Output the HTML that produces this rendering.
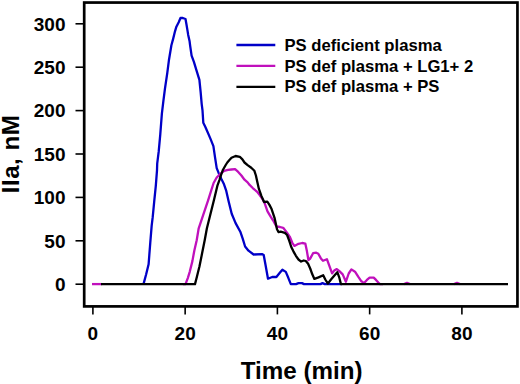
<!DOCTYPE html>
<html><head><meta charset="utf-8">
<style>
html,body{margin:0;padding:0;background:#fff;}
body{width:520px;height:384px;overflow:hidden;}
svg{display:block;}
text{font-family:"Liberation Sans",sans-serif;font-weight:bold;fill:#000;}
</style></head><body>
<svg width="520" height="384" viewBox="0 0 520 384">
<rect x="0" y="0" width="520" height="384" fill="#fff"/>
<g transform="translate(0,0.3)" fill="none" stroke-linejoin="round" stroke-linecap="butt" stroke-width="2.3">
<polyline stroke="#0000c8" points="143.5,283.8 146.1,274.2 148.6,264 150.3,242 151.7,225 152.7,216.9 154.2,201.25 155.8,185.6 157,170 157.2,163.4 158.75,150.9 160.3,133.75 161.9,113.1 163.4,100.6 165,88.1 167.3,72.5 168.9,60 171.4,45 173.2,38.3 175,31 176.4,26.4 178.7,21.9 180.5,17.7 182.8,17.7 185.5,18.7 186.4,23.7 187.3,29.1 188.2,34.6 189.6,41 190.1,45 191.6,55.3 193.9,61.6 196.25,69.4 199.4,79.5 200.6,91.25 201.7,103.75 202.5,110 203.3,122.5 205.6,127.2 210.3,138.1 213.4,145.9 215,156.9 216.7,167.8 218.7,172.9 221.4,178.75 223.75,183.4 226.1,190 228.6,200.9 231.7,213.4 235.6,222.8 240.3,231.4 242.7,238.4 245.1,246.2 248.5,250.4 253.6,254.2 262,253.8 263.7,254.7 265.4,264 268,278.4 272.2,276.7 276.4,276.7 279.8,272.5 282.4,269.4 285.8,271.6 288.3,277.5 290.8,283.8 296,283.8 298.5,282.8 302,282.8 304,283.8 320.5,283.8 322.5,282.8 324.8,283.8 342,283.8"/>
<polyline stroke="#c010bc" points="183,283.8 185.5,283.8 187.8,277.8 189.8,271.25 192.4,260.8 194.3,250.4 196.7,240 198.7,228 203.4,214 208.1,200 211.25,190 213.6,182.7 216.7,177.2 220.6,173.3 224.2,170.5 228,169.6 231.5,169.2 235.1,168.9 238.2,171.6 241.4,175.2 244.5,179.4 247.6,182 249.1,184.1 253,188 256.9,191.25 259.5,194.5 262,198 264.7,203 267.5,211 270.8,216.6 273,220 276.25,226 280,226.7 283.2,227.5 286.6,231.8 289.7,236.25 292.3,242.5 294.4,245.6 298.5,243.5 302.2,242.7 305.3,243.3 306.9,250.8 308.4,259.7 310,258.6 313.1,252.9 316.25,252.4 318.3,253.4 320.9,258.1 323,260.5 326.9,258.9 329,264.6 332.1,273 334.2,270.3 336.8,268.75 339.4,270.8 342.7,274.1 345.9,281.4 348.7,273.2 351.4,269.1 355,271.4 358.2,276.4 361.4,281 364.1,282.8 366.9,279.6 369.6,277.3 373.7,277.3 376,279.6 378.3,282.3 380,283.8 383,283.8"/>
<polyline stroke="#c010bc" points="92,283.8 102,283.8"/><polyline stroke="#c010bc" points="404,283.8 407,282.5 410,283.8"/><polyline stroke="#c010bc" points="454,283.8 457,282.5 460,283.8"/>
<polyline stroke="#000000" points="101,283.8 195,283.8 196.9,276.5 199.5,266 202.1,253 204.7,240 206.9,228 210.4,214 213.9,200 216.3,190 217.5,185 219.5,179.5 221,174.8 223,169.4 225.7,164.7 227.3,162.2 229.2,160 231.5,157.5 235.6,155.7 239.8,156.5 242.4,159.1 244.5,162.2 247.6,164.8 251.25,167.4 254.4,170.5 255.9,175.2 257.5,182.5 258.9,188.6 261.5,195.8 264.1,201.7 267.3,201.4 269.3,204.3 271.6,208.75 274.7,218.1 277,229 278.6,231.9 280.7,231.4 284.9,232.6 287.1,234.7 289.2,240.4 291.25,246.7 293.3,250.8 295.9,255.5 298.5,259.2 301.1,261.25 303.75,260.2 305.8,260.7 308.1,263.5 310.2,268.2 312.3,274 314.4,278.6 318.5,277.1 323.2,275 325.3,279.2 327.9,283.3 331,279.2 334.2,275.5 337.3,271.9 339.4,277.6 340.9,283.8 508,283.8"/>
</g>
<g stroke="#000" stroke-width="1.6">
<line x1="75.5" y1="284.20" x2="84" y2="284.20" />
<line x1="75.5" y1="240.80" x2="84" y2="240.80" />
<line x1="75.5" y1="197.40" x2="84" y2="197.40" />
<line x1="75.5" y1="154.00" x2="84" y2="154.00" />
<line x1="75.5" y1="110.60" x2="84" y2="110.60" />
<line x1="75.5" y1="67.20" x2="84" y2="67.20" />
<line x1="75.5" y1="23.80" x2="84" y2="23.80" />
<line x1="92.90" y1="306" x2="92.90" y2="314.4" />
<line x1="185.15" y1="306" x2="185.15" y2="314.4" />
<line x1="277.40" y1="306" x2="277.40" y2="314.4" />
<line x1="369.65" y1="306" x2="369.65" y2="314.4" />
<line x1="461.90" y1="306" x2="461.90" y2="314.4" />
</g>
<rect x="84.2" y="2.55" width="433.25" height="303.85" fill="none" stroke="#000" stroke-width="2.7"/>
<g font-size="19">
<text x="65.5" y="291.00" text-anchor="end">0</text>
<text x="65.5" y="247.60" text-anchor="end">50</text>
<text x="65.5" y="204.20" text-anchor="end">100</text>
<text x="65.5" y="160.80" text-anchor="end">150</text>
<text x="65.5" y="117.40" text-anchor="end">200</text>
<text x="65.5" y="74.00" text-anchor="end">250</text>
<text x="65.5" y="30.60" text-anchor="end">300</text>
<text x="92.90" y="340" text-anchor="middle">0</text>
<text x="185.15" y="340" text-anchor="middle">20</text>
<text x="277.40" y="340" text-anchor="middle">40</text>
<text x="369.65" y="340" text-anchor="middle">60</text>
<text x="461.90" y="340" text-anchor="middle">80</text>
</g>
<g stroke-width="2.3">
<line x1="236.4" y1="45" x2="275.3" y2="45" stroke="#0000c8"/>
<line x1="236.4" y1="65.8" x2="275.3" y2="65.8" stroke="#c010bc"/>
<line x1="236.4" y1="86.8" x2="275.3" y2="86.8" stroke="#000000"/>
</g>
<g font-size="16.65">
<text x="284.5" y="50.6">PS deficient plasma</text>
<text x="284.5" y="71.5">PS def plasma + LG1+ 2</text>
<text x="284.5" y="92.3">PS def plasma + PS</text>
</g>
<text x="301.6" y="378.9" font-size="24.2" text-anchor="middle">Time (min)</text>
<text transform="translate(18.6,153.9) rotate(-90)" font-size="24.2" letter-spacing="0.5" text-anchor="middle">IIa, nM</text>
</svg>
</body></html>
